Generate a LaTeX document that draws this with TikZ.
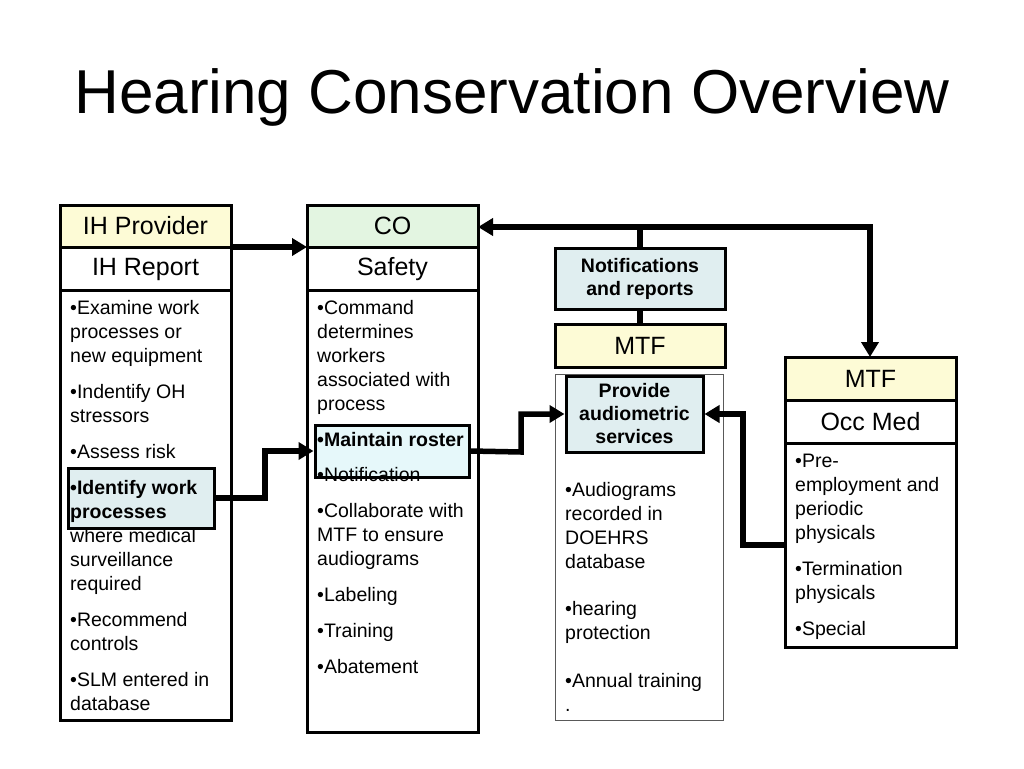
\documentclass[tikz,border=0pt]{standalone}
\usepackage{fontspec}
\setmainfont{Liberation Sans}
\usetikzlibrary{arrows.meta}
\definecolor{hy}{HTML}{FDFBD6}
\definecolor{hg}{HTML}{E3F5E1}
\definecolor{hb}{HTML}{E0EEF0}
\definecolor{hc}{HTML}{E6F8FA}
\begin{document}
\begin{tikzpicture}[x=1pt,y=-1pt,
  cell/.style={draw,line width=3pt},
  thin/.style={draw,line width=1pt,gray!70!black},
  hd/.style={font=\fontsize{25}{28}\selectfont},
  tx/.style={anchor=base west,inner sep=0pt,font=\fontsize{19.5}{24}\selectfont},
  bx/.style={align=center,font=\fontsize{19.5}{23}\selectfont\bfseries},
  conn/.style={line width=5.5pt},
  arr/.style={line width=5.5pt,line join=miter,-{Triangle[length=15pt,width=17pt]}}]
\useasboundingbox (0,0) rectangle (1024,768);
\node (title) at (512,97) {\fontsize{62}{70}\selectfont Hearing Conservation Overview};
% IH column
\path[cell,fill=hy] (60,205) rectangle (231,247);
\path[cell] (60,247) rectangle (231,290);
\path[cell] (60,290) rectangle (231,720);
\node[hd] (ihp) at (145.5,226) {IH Provider};
\node[hd] (ihr) at (145.5,269) {IH Report};
% CO column
\path[cell,fill=hg] (307,205) rectangle (478,247);
\path[cell] (307,247) rectangle (478,290);
\path[cell] (307,290) rectangle (478,732);
\node[hd] (co) at (392.5,226) {CO};
\node[hd] (saf) at (392.5,269) {Safety};
% middle column
\path[thin] (555,374) rectangle (723,720);
\node[cell,fill=hb,bx,minimum width=170pt,minimum height=61pt,inner sep=0pt] (notif) at (640,278.5) {Notifications\\and reports};
\node[cell,fill=hy,hd,minimum width=170pt,minimum height=43pt,inner sep=0pt] (mtf1) at (640,345.5) {MTF};
% right column
\path[cell,fill=hy] (785,357) rectangle (956,400);
\path[cell] (785,400) rectangle (956,443);
\path[cell] (785,443) rectangle (956,647);
\node[hd] (mtf2) at (870.5,378.5) {MTF};
\node[hd] (occ) at (870.5,421.5) {Occ Med};
% highlight boxes
\node[cell,fill=hb,minimum width=146pt,minimum height=60pt,inner sep=0pt] (idw) at (141,498) {};
\node[cell,fill=hc,minimum width=154pt,minimum height=52pt,inner sep=0pt] (ros) at (392,451) {};
\node[cell,fill=hb,bx,minimum width=137pt,minimum height=76pt,inner sep=0pt] (prov) at (634.5,414) {Provide\\audiometric\\services};
% text IH
\foreach \y/\t [count=\i] in {314/{•Examine work},338/{processes or},362/{new equipment},398/{•Indentify OH},422/{stressors},458/{•Assess risk},494/{\textbf{•Identify work}},518/{\textbf{processes}},542/{where medical},566/{surveillance},590/{required},626/{•Recommend},650/{controls},686/{•SLM entered in},710/{database}}
  \node[tx] (a\i) at (70,\y) {\t};
% text CO
\foreach \y/\t [count=\i] in {314/{•Command},338/{determines},362/{workers},386/{associated with},410/{process},446/{\textbf{•Maintain roster}},481/{•Notification},517/{•Collaborate with},541/{MTF to ensure},565/{audiograms},601/{•Labeling},637/{•Training},673/{•Abatement}}
  \node[tx] (b\i) at (317,\y) {\t};
% text MTF middle
\foreach \y/\t [count=\i] in {496/{•Audiograms},520/{recorded in},544/{DOEHRS},568/{database},615/{•hearing},639/{protection},687/{•Annual training},711/{.}}
  \node[tx] (c\i) at (565,\y) {\t};
% text Occ Med
\foreach \y/\t [count=\i] in {467/{•Pre-},491/{employment and},515/{periodic},539/{physicals},575/{•Termination},599/{physicals},635/{•Special}}
  \node[tx] (d\i) at (795,\y) {\t};
% connectors
\coordinate (t1) at (870,227);
\coordinate (t2) at (640,227);
\coordinate (cor) at (478,227);
\coordinate (ihe) at (231,247);
\coordinate (coe) at (307,247);
\coordinate (mt) at (870,357);
\draw[arr] (ihe) -- (coe);
\draw[arr] (t2) -- (cor);
\draw[arr] (t2) -- (t1) -- (mt);
\draw[conn] (t2) -- (notif.north);
\draw[conn] (notif.south) -- (mtf1.north);
\draw[arr] (idw.east) -- (265,498) |- (ros.west);
\draw[arr] (ros.east) -- (521,452) |- (prov.west);
\draw[arr] (785,545) -- (743,545) |- (prov.east);
\end{tikzpicture}
\end{document}
